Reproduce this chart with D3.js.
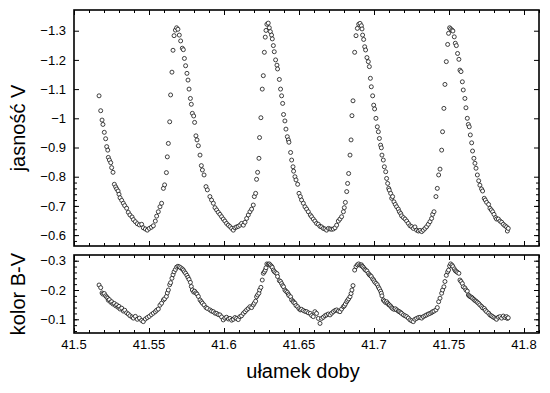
<!DOCTYPE html>
<html>
<head>
<meta charset="utf-8">
<script src="https://cdn.jsdelivr.net/npm/d3@7"></script>
<style>
  body { margin: 0; background: #fff; }
  svg { display: block; font-family: "Liberation Sans", Arial, Helvetica, sans-serif; }
</style>
</head>
<body>
<div id="chart"></div>
<script>
// czas (ułamek doby), jasność V, kolor B-V
const days = [
  41.5167,41.5178,41.5187,41.5193,41.5202,41.5211,41.5218,41.5225,41.5229,41.5236,
  41.5245,41.5251,41.5260,41.5269,41.5278,41.5285,41.5294,41.5300,41.5307,41.5318,
  41.5329,41.5338,41.5351,41.5362,41.5373,41.5387,41.5396,41.5409,41.5422,41.5436,
  41.5451,41.5462,41.5476,41.5489,41.5502,41.5516,41.5529,41.5542,41.5551,41.5562,
  41.5573,41.5584,41.5596,41.5604,41.5616,41.5622,41.5629,41.5638,41.5644,41.5653,
  41.5660,41.5667,41.5676,41.5684,41.5693,41.5702,41.5711,41.5722,41.5729,41.5736,
  41.5744,41.5753,41.5760,41.5767,41.5776,41.5782,41.5789,41.5798,41.5804,41.5813,
  41.5820,41.5829,41.5840,41.5849,41.5856,41.5867,41.5880,41.5889,
  41.5906,41.5917,41.5929,41.5940,41.5951,41.5962,41.5973,41.5984,41.5995,41.6006,
  41.6017,41.6029,41.6040,41.6051,41.6062,41.6073,41.6084,41.6095,41.6106,41.6117,
  41.6129,41.6140,41.6151,41.6162,41.6173,41.6184,41.6195,41.6202,41.6211,41.6217,
  41.6224,41.6233,41.6237,41.6246,41.6255,41.6262,41.6269,41.6275,41.6280,41.6286,
  41.6295,41.6302,41.6309,41.6317,41.6322,41.6329,41.6335,41.6344,41.6353,41.6357,
  41.6369,41.6377,41.6384,41.6391,41.6397,41.6406,41.6413,41.6422,41.6429,41.6433,
  41.6444,41.6451,41.6460,41.6464,41.6473,41.6480,41.6491,41.6500,41.6509,41.6517,
  41.6529,41.6540,41.6551,41.6562,41.6575,41.6584,41.6595,41.6606,41.6617,41.6629,
  41.6640,41.6651,41.6662,
  41.6673,41.6684,41.6696,41.6707,41.6718,41.6729,41.6740,41.6751,41.6762,41.6773,
  41.6784,41.6796,41.6802,41.6809,41.6818,41.6824,41.6831,41.6840,41.6847,41.6853,
  41.6860,41.6871,41.6880,41.6889,41.6898,41.6907,41.6916,41.6920,41.6924,41.6931,
  41.6938,41.6944,41.6953,41.6962,41.6969,41.6976,41.6982,41.6991,41.6998,41.7004,
  41.7013,41.7022,41.7029,41.7036,41.7044,41.7049,41.7053,41.7062,41.7069,41.7078,
  41.7084,41.7091,41.7098,41.7102,41.7111,41.7118,41.7124,41.7133,41.7142,41.7151,
  41.7162,41.7169,41.7178,41.7184,41.7196,41.7207,41.7218,41.7229,41.7240,41.7251,
  41.7262,41.7273,41.7284,41.7296,41.7307,41.7318,41.7329,41.7340,41.7351,41.7362,
  41.7373,41.7384,41.7391,41.7400,41.7413,41.7422,41.7431,41.7440,
  41.7451,41.7457,41.7466,41.7473,41.7482,41.7491,41.7497,41.7504,41.7511,41.7520,
  41.7526,41.7535,41.7542,41.7549,41.7557,41.7566,41.7573,41.7580,41.7589,41.7595,
  41.7606,41.7613,41.7622,41.7629,41.7635,41.7642,41.7651,41.7657,41.7666,41.7673,
  41.7680,41.7689,41.7698,41.7706,41.7717,41.7724,41.7735,41.7742,41.7751,41.7764,
  41.7773,41.7782,41.7791,41.7800,41.7811,41.7817,41.7829,41.7840,41.7851,41.7862,
  41.7873,41.7884,41.7889,41.7895
];

const magV = [
  -1.077,-1.026,-0.994,-0.979,-0.952,-0.930,-0.903,-0.891,-0.866,-0.857,
  -0.848,-0.831,-0.815,-0.774,-0.765,-0.758,-0.751,-0.740,-0.728,-0.719,
  -0.709,-0.701,-0.692,-0.678,-0.669,-0.662,-0.653,-0.646,-0.639,-0.635,
  -0.637,-0.625,-0.621,-0.617,-0.623,-0.627,-0.632,-0.648,-0.665,-0.680,
  -0.697,-0.709,-0.760,-0.772,-0.814,-0.868,-0.914,-0.988,-1.080,-1.158,
  -1.233,-1.283,-1.302,-1.310,-1.305,-1.285,-1.265,-1.240,-1.235,-1.205,
  -1.180,-1.154,-1.131,-1.100,-1.068,-1.048,-1.017,-1.008,-0.986,-0.940,
  -0.926,-0.906,-0.874,-0.838,-0.823,-0.806,-0.766,-0.755,
  -0.732,-0.720,-0.709,-0.694,-0.686,-0.678,-0.671,-0.663,-0.655,-0.648,
  -0.640,-0.634,-0.629,-0.623,-0.617,-0.625,-0.628,-0.630,-0.634,-0.640,
  -0.634,-0.644,-0.657,-0.669,-0.680,-0.689,-0.703,-0.732,-0.743,-0.791,
  -0.815,-0.863,-0.934,-1.002,-1.100,-1.146,-1.226,-1.278,-1.301,-1.322,
  -1.326,-1.310,-1.297,-1.285,-1.272,-1.249,-1.228,-1.200,-1.182,-1.169,
  -1.133,-1.100,-1.077,-1.051,-1.013,-0.991,-0.963,-0.937,-0.926,-0.918,
  -0.883,-0.857,-0.834,-0.819,-0.800,-0.789,-0.774,-0.743,-0.732,-0.720,
  -0.709,-0.697,-0.689,-0.680,-0.669,-0.663,-0.655,-0.648,-0.640,-0.637,
  -0.630,-0.628,-0.623,
  -0.621,-0.617,-0.623,-0.621,-0.620,-0.621,-0.625,-0.634,-0.648,-0.655,
  -0.663,-0.680,-0.694,-0.712,-0.749,-0.777,-0.811,-0.874,-0.926,-1.009,
  -1.060,-1.226,-1.283,-1.308,-1.322,-1.325,-1.317,-1.306,-1.285,-1.270,
  -1.245,-1.234,-1.208,-1.194,-1.177,-1.137,-1.108,-1.077,-1.045,-1.032,
  -1.000,-0.971,-0.954,-0.931,-0.908,-0.899,-0.874,-0.857,-0.834,-0.817,
  -0.794,-0.777,-0.760,-0.754,-0.743,-0.726,-0.732,-0.714,-0.705,-0.697,
  -0.689,-0.680,-0.674,-0.666,-0.660,-0.655,-0.648,-0.640,-0.632,-0.629,
  -0.623,-0.628,-0.617,-0.614,-0.616,-0.612,-0.617,-0.623,-0.629,-0.637,
  -0.646,-0.657,-0.671,-0.680,-0.732,-0.760,-0.806,-0.826,
  -0.891,-0.954,-1.034,-1.116,-1.194,-1.253,-1.291,-1.310,-1.306,-1.302,
  -1.299,-1.279,-1.257,-1.249,-1.222,-1.202,-1.165,-1.160,-1.125,-1.097,
  -1.068,-1.036,-1.000,-0.979,-0.971,-0.943,-0.916,-0.888,-0.863,-0.846,
  -0.829,-0.806,-0.786,-0.771,-0.758,-0.751,-0.726,-0.720,-0.712,-0.705,
  -0.692,-0.686,-0.680,-0.671,-0.660,-0.655,-0.655,-0.648,-0.644,-0.637,
  -0.632,-0.628,-0.614,-0.623
];

const colorBV = [
  -0.217,-0.208,-0.190,-0.186,-0.188,-0.180,-0.176,-0.172,-0.165,-0.167,
  -0.158,-0.160,-0.152,-0.154,-0.146,-0.149,-0.141,-0.144,-0.135,-0.138,
  -0.128,-0.131,-0.122,-0.118,-0.112,-0.108,-0.104,-0.110,-0.100,-0.104,
  -0.096,-0.092,-0.101,-0.106,-0.110,-0.116,-0.121,-0.126,-0.131,-0.135,
  -0.148,-0.155,-0.166,-0.170,-0.178,-0.190,-0.200,-0.218,-0.225,-0.240,
  -0.252,-0.262,-0.270,-0.278,-0.281,-0.279,-0.276,-0.272,-0.268,-0.262,
  -0.257,-0.250,-0.243,-0.236,-0.226,-0.212,-0.200,-0.193,-0.196,-0.190,
  -0.186,-0.178,-0.166,-0.160,-0.155,-0.149,-0.140,-0.137,
  -0.132,-0.128,-0.126,-0.121,-0.120,-0.116,-0.115,-0.108,-0.098,-0.104,
  -0.107,-0.101,-0.103,-0.097,-0.100,-0.106,-0.103,-0.099,-0.109,-0.112,
  -0.120,-0.126,-0.132,-0.137,-0.143,-0.140,-0.149,-0.155,-0.162,-0.177,
  -0.183,-0.189,-0.200,-0.209,-0.234,-0.257,-0.262,-0.268,-0.276,-0.289,
  -0.288,-0.289,-0.285,-0.281,-0.277,-0.268,-0.263,-0.259,-0.256,-0.246,
  -0.232,-0.229,-0.222,-0.215,-0.211,-0.200,-0.196,-0.192,-0.186,-0.181,
  -0.177,-0.166,-0.162,-0.158,-0.155,-0.147,-0.143,-0.136,-0.132,-0.134,
  -0.130,-0.127,-0.126,-0.122,-0.120,-0.113,-0.109,-0.126,-0.120,-0.103,
  -0.086,-0.103,-0.107,
  -0.112,-0.115,-0.118,-0.115,-0.121,-0.126,-0.130,-0.132,-0.128,-0.126,
  -0.135,-0.143,-0.146,-0.152,-0.160,-0.165,-0.170,-0.177,-0.188,-0.200,
  -0.215,-0.268,-0.280,-0.286,-0.289,-0.285,-0.286,-0.282,-0.280,-0.276,
  -0.271,-0.268,-0.265,-0.257,-0.252,-0.249,-0.246,-0.238,-0.234,-0.228,
  -0.223,-0.218,-0.210,-0.204,-0.196,-0.189,-0.180,-0.166,-0.162,-0.157,
  -0.160,-0.155,-0.150,-0.149,-0.145,-0.140,-0.137,-0.134,-0.136,-0.132,
  -0.128,-0.126,-0.123,-0.120,-0.115,-0.112,-0.109,-0.104,-0.098,-0.095,
  -0.092,-0.100,-0.103,-0.106,-0.107,-0.104,-0.109,-0.112,-0.115,-0.118,
  -0.120,-0.123,-0.126,-0.128,-0.132,-0.140,-0.160,-0.172,
  -0.189,-0.200,-0.211,-0.229,-0.250,-0.262,-0.268,-0.282,-0.289,-0.285,
  -0.280,-0.272,-0.266,-0.263,-0.260,-0.257,-0.234,-0.229,-0.222,-0.211,
  -0.207,-0.200,-0.196,-0.183,-0.180,-0.177,-0.175,-0.172,-0.168,-0.164,
  -0.162,-0.158,-0.154,-0.149,-0.144,-0.139,-0.137,-0.131,-0.126,-0.121,
  -0.115,-0.112,-0.109,-0.106,-0.103,-0.100,-0.107,-0.109,-0.104,-0.111,
  -0.106,-0.109,-0.103,-0.105
];

const xTicks = [41.5, 41.55, 41.6, 41.65, 41.7, 41.75, 41.8];
const vTicks = [-0.6, -0.7, -0.8, -0.9, -1, -1.1, -1.2, -1.3];
const bvTicks = [-0.1, -0.2, -0.3];
const xTitle = "ułamek doby";
const vTitle = "jasność V";
const bvTitle = "kolor B-V";

(() => {
  const width = 550, height = 393;
  const left = 74, right = 539;
  const p1 = { top: 10, bottom: 246 };
  const p2 = { top: 255, bottom: 333 };

  const svg = d3.select("#chart")
    .append("svg")
    .attr("width", width)
    .attr("height", height);

  const x = d3.scaleLinear().domain([41.5, 41.81]).range([left, right]);
  const yV = d3.scaleLinear().domain([-0.5627, -1.3709]).range([p1.bottom, p1.top]);
  const yBV = d3.scaleLinear().domain([-0.0532, -0.3195]).range([p2.bottom, p2.top]);

  const fmt = d3.format("~g");
  const xMinor = d3.range(41.5, 41.8105, 0.01);

  const tickStyle = s => {
    s.select(".domain").remove();
    s.selectAll("line").attr("stroke", "#000").attr("stroke-width", 1);
    s.selectAll("text").remove();
  };

  // ticks pointing inwards on all four sides of a panel
  const frameTicks = (p, y, major, minor) => {
    const yMinor = d3.range(0, 40).map(i => -(i * 0.02)).filter(v => v <= y.domain()[0] && v >= y.domain()[1]);
    [[xTicks, 5], [xMinor, 3]].forEach(([vals, len]) => {
      svg.append("g").attr("transform", `translate(0,${p.bottom})`)
        .call(d3.axisBottom(x).tickValues(vals).tickSize(-len)).call(tickStyle);
      svg.append("g").attr("transform", `translate(0,${p.top})`)
        .call(d3.axisTop(x).tickValues(vals).tickSize(-len)).call(tickStyle);
    });
    [[major, 5], [yMinor, 3]].forEach(([vals, len]) => {
      svg.append("g").attr("transform", `translate(${left},0)`)
        .call(d3.axisLeft(y).tickValues(vals).tickSize(-len)).call(tickStyle);
      svg.append("g").attr("transform", `translate(${right},0)`)
        .call(d3.axisRight(y).tickValues(vals).tickSize(-len)).call(tickStyle);
    });
    svg.append("rect")
      .attr("x", left).attr("y", p.top)
      .attr("width", right - left).attr("height", p.bottom - p.top)
      .attr("fill", "none").attr("stroke", "#000").attr("stroke-width", 1.6);

    svg.append("g").selectAll("text")
      .data(major).join("text")
      .attr("x", left - 8)
      .attr("y", d => y(d))
      .attr("dy", "0.36em")
      .attr("text-anchor", "end")
      .attr("font-size", 13)
      .text(d => fmt(d));
  };

  frameTicks(p1, yV, vTicks);
  frameTicks(p2, yBV, bvTicks);

  // x tick labels under the lower panel
  svg.append("g").selectAll("text")
    .data(xTicks).join("text")
    .attr("x", d => x(d))
    .attr("y", 349)
    .attr("text-anchor", "middle")
    .attr("font-size", 13)
    .text(d => fmt(d));

  // points
  const pts = days.map((t, i) => ({ t, v: magV[i], bv: colorBV[i] }));

  const dots = (y, key) => svg.append("g").selectAll("circle")
    .data(pts).join("circle")
    .attr("cx", d => x(d.t))
    .attr("cy", d => y(d[key]))
    .attr("r", 2)
    .attr("fill", "#fff")
    .attr("stroke", "#111")
    .attr("stroke-width", 0.8);

  dots(yV, "v");
  dots(yBV, "bv");

  // titles
  svg.append("text")
    .attr("x", 303).attr("y", 378)
    .attr("text-anchor", "middle")
    .attr("font-size", 20)
    .text(xTitle);

  svg.append("text")
    .attr("transform", `translate(25,${(p1.top + p1.bottom) / 2}) rotate(-90)`)
    .attr("text-anchor", "middle")
    .attr("font-size", 20)
    .text(vTitle);

  svg.append("text")
    .attr("transform", `translate(25,${(p2.top + p2.bottom) / 2}) rotate(-90)`)
    .attr("text-anchor", "middle")
    .attr("font-size", 20)
    .text(bvTitle);
})();
</script>
</body>
</html>
